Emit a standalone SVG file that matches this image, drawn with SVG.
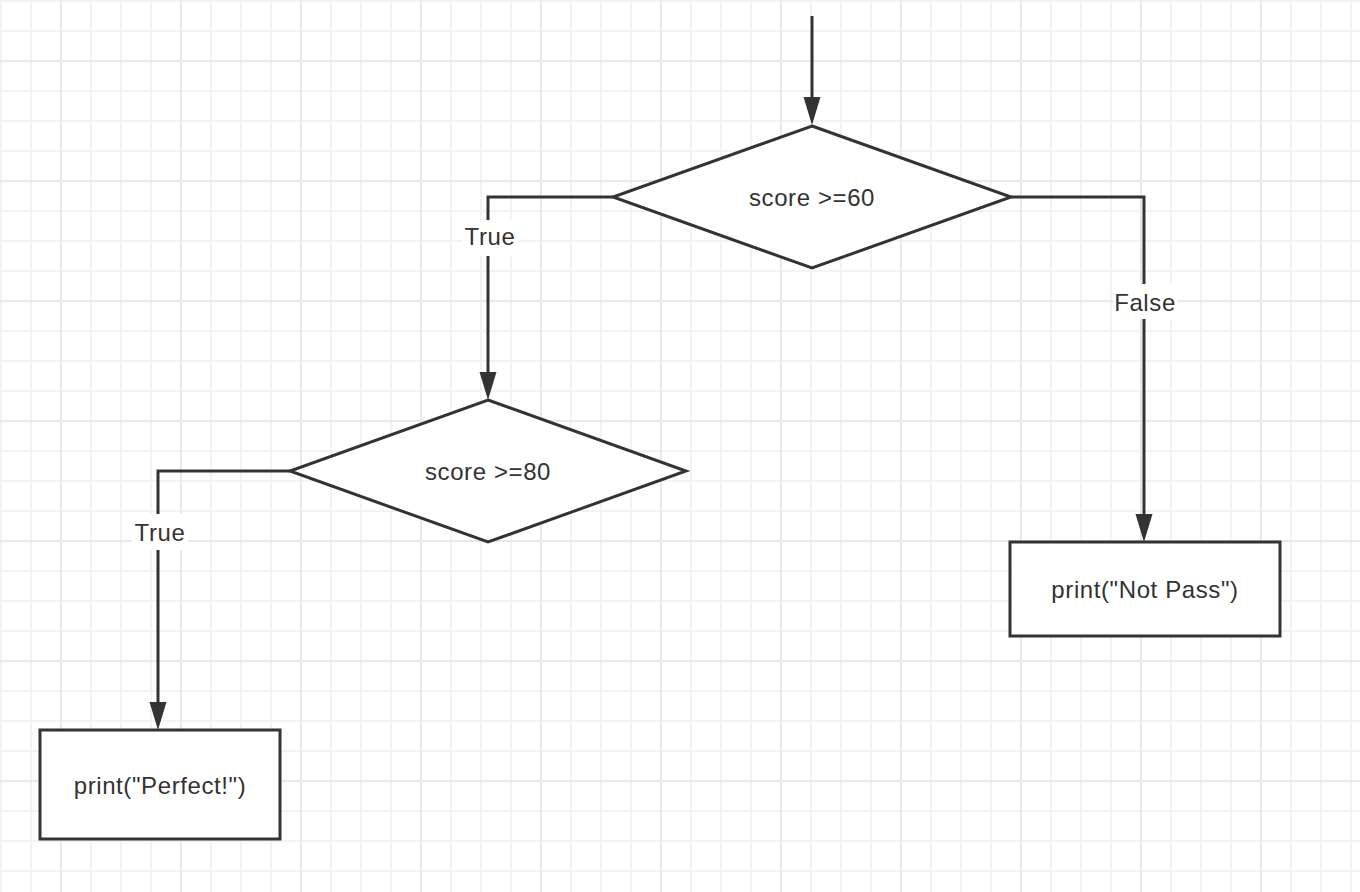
<svg xmlns="http://www.w3.org/2000/svg" width="1360" height="892" viewBox="0 0 1360 892">
<style>
.shape{fill:#fff;stroke:#333;stroke-width:3}
.conn{fill:none;stroke:#333;stroke-width:3}
.t{font-family:"Liberation Sans",Arial,sans-serif;font-size:24px;fill:#333;text-anchor:middle;letter-spacing:0.6px}
.lblbg{fill:#fff}
</style>
<defs>
<pattern id="minor" patternUnits="userSpaceOnUse" x="0" y="0" width="30" height="30">
<rect x="0" y="0" width="2" height="30" fill="#f3f3f3"/>
<rect x="0" y="0" width="30" height="2" fill="#f3f3f3"/>
</pattern>
<pattern id="major" patternUnits="userSpaceOnUse" x="60" y="60" width="120" height="120">
<rect x="0" y="0" width="2" height="120" fill="#e8e8e8"/>
<rect x="0" y="0" width="120" height="2" fill="#e8e8e8"/>
</pattern>
<marker id="arrow" markerUnits="userSpaceOnUse" viewBox="0 0 28 18" refX="0" refY="9" markerWidth="28" markerHeight="18" orient="auto">
<path d="M0,0.5 L28,9 L0,17.5 z" fill="#333"/>
</marker>
</defs>
<rect width="1360" height="892" fill="#fff"/>
<rect width="1360" height="892" fill="url(#minor)"/>
<rect width="1360" height="892" fill="url(#major)"/>
<g id="connectors">
<path class="conn" d="M812,16 L812,97" marker-end="url(#arrow)"/>
<path class="conn" d="M613,197 L488,197 L488,372" marker-end="url(#arrow)"/>
<path class="conn" d="M1011,197 L1144,197 L1144,514" marker-end="url(#arrow)"/>
<path class="conn" d="M290,471 L158,471 L158,702" marker-end="url(#arrow)"/>
<rect class="lblbg" x="462" y="220" width="56" height="36"/>
<text class="t" x="490" y="245">True</text>
<rect class="lblbg" x="1113" y="284" width="64" height="35"/>
<text class="t" x="1145" y="311">False</text>
<rect class="lblbg" x="132" y="514" width="56" height="36"/>
<text class="t" x="160" y="541">True</text>
</g>
<g id="cond1">
<polygon class="shape" points="812,126 1011,197 812,268 613,197"/>
<text class="t" x="812" y="206">score &gt;=60</text>
</g>
<g id="cond2">
<polygon class="shape" points="488,400 686,471 488,542 290,471"/>
<text class="t" x="488" y="480">score &gt;=80</text>
</g>
<g id="notpass">
<rect class="shape" x="1010" y="542" width="270" height="94"/>
<text class="t" x="1145" y="598">print("Not Pass")</text>
</g>
<g id="perfect">
<rect class="shape" x="40" y="730" width="240" height="109"/>
<text class="t" x="160" y="794">print("Perfect!")</text>
</g>
</svg>
